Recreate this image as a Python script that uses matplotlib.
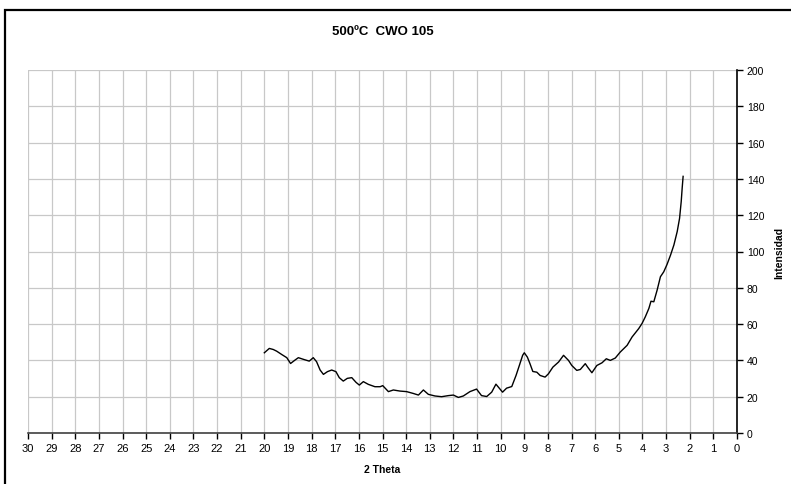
import matplotlib.pyplot as plt
from matplotlib.patches import Rectangle

plt.rcParams['font.family'] = ['Liberation Sans', 'DejaVu Sans']

# 2 Theta vs Intensidad
two_theta = [20.0, 19.79, 19.62, 19.48, 19.27, 19.05, 18.89, 18.7, 18.56, 18.35,
             18.1, 17.93, 17.79, 17.64, 17.5, 17.33, 17.15, 16.97, 16.83, 16.66,
             16.49, 16.3, 16.12, 15.98, 15.81, 15.6, 15.32, 15.1, 14.99, 14.75,
             14.54, 14.26, 13.98, 13.7, 13.48, 13.27, 13.06, 12.78, 12.5, 12.21,
             12.0, 11.79, 11.58, 11.3, 11.02, 10.81, 10.59, 10.38, 10.2, 10.06,
             9.92, 9.75, 9.53, 9.35, 9.21, 9.07, 9.0, 8.87, 8.76, 8.64,
             8.47, 8.33, 8.12, 7.98, 7.79, 7.55, 7.34, 7.13, 6.99, 6.78,
             6.63, 6.42, 6.32, 6.14, 5.93, 5.71, 5.53, 5.36, 5.15, 4.94,
             4.65, 4.44, 4.16, 4.02, 3.88, 3.73, 3.64, 3.52, 3.38, 3.24,
             3.1, 2.96, 2.81, 2.67, 2.53, 2.43, 2.36, 2.32, 2.28]
intensidad = [44.2, 46.6, 46.0, 45.1, 43.3, 41.5, 38.3, 40.2, 41.5, 40.6,
              39.6, 41.5, 39.3, 34.7, 32.3, 33.8, 34.7, 33.8, 30.5, 28.6,
              30.1, 30.5, 27.9, 26.4, 28.3, 26.8, 25.5, 25.5, 26.1, 22.8,
              23.7, 23.1, 22.8, 21.8, 20.9, 23.7, 21.3, 20.4, 20.0, 20.6,
              20.9, 19.6, 20.4, 22.8, 24.2, 20.6, 20.1, 22.5, 26.9, 24.7,
              22.5, 24.7, 25.6, 31.7, 37.2, 42.8, 44.2, 41.8, 38.2, 33.9,
              33.5, 31.7, 30.8, 32.6, 36.3, 39.1, 42.8, 40.0, 37.2, 34.5,
              35.0, 38.2, 36.3, 33.2, 37.2, 38.7, 40.9, 40.0, 41.3, 44.6,
              48.3, 52.9, 57.5, 60.3, 64.0, 68.6, 72.6, 72.3, 78.7, 86.1,
              88.8, 92.9, 98.1, 103.6, 111.0, 118.3, 127.6, 134.9, 141.4]

x_ticks = list(range(30, -1, -1))
y_ticks = list(range(0, 201, 20))

fig = plt.figure(figsize=(7.91, 4.85), dpi=100)
ax = fig.add_axes([28 / 791, 51 / 485, 709 / 791, 363 / 485])

ax.plot(two_theta, intensidad, color='black', linewidth=1.0)

ax.set_xlim(30, 0)
ax.set_ylim(0, 200)
ax.set_xticks(x_ticks)
ax.set_yticks(y_ticks)
ax.grid(True, color='#c8c8c8', linewidth=0.9)
ax.set_axisbelow(True)

ax.yaxis.tick_right()
ax.yaxis.set_label_position('right')
for side in ['top', 'left']:
    ax.spines[side].set_visible(False)
ax.spines['right'].set_color('black')
ax.spines['bottom'].set_color('#404040')
ax.spines['right'].set_linewidth(1.2)
ax.spines['bottom'].set_linewidth(1.2)
ax.tick_params(axis='both', length=4, width=1, direction='out', pad=3)
ax.tick_params(axis='x', labelsize=8)
ax.tick_params(axis='y', labelsize=7.5)

ax.set_xlabel('2 Theta', fontsize=7.5, fontweight='bold')
ax.xaxis.set_label_coords(0.5, -0.085)
ax.set_ylabel('Intensidad', fontsize=7.5, fontweight='bold')
ax.yaxis.set_label_coords(1.052, 0.5)
ax.set_title('500ºC  CWO 105', fontsize=9.5, fontweight='bold', pad=26)

# outer chart border
fig.patches.append(Rectangle((4.5 / 791, -0.02), 1.0, 1 - 10.5 / 485 + 0.02,
                             transform=fig.transFigure, fill=False,
                             edgecolor='black', linewidth=1.6))

plt.savefig('out.png', dpi=100)
